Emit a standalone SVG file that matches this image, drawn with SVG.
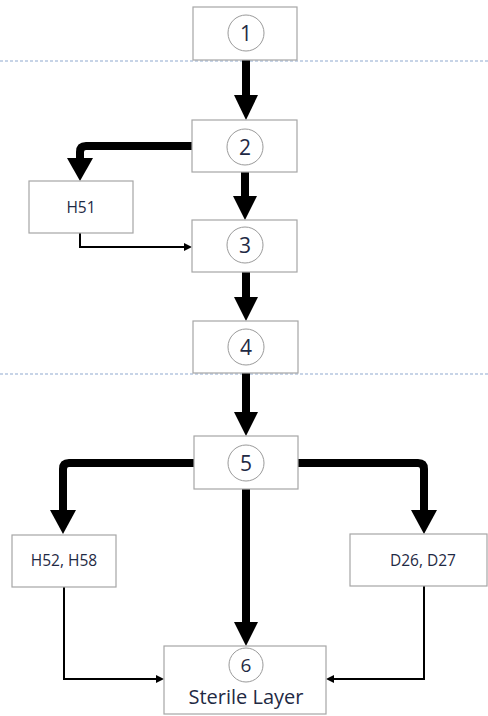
<svg xmlns="http://www.w3.org/2000/svg" width="488" height="716" viewBox="0 0 488 716">
<defs>
<style>
.box{fill:#fff;stroke:#a6a6a6;stroke-width:1.2}
.circ{fill:#fff;stroke:#9a9a9a;stroke-width:1}
.num{font-family:"Open Sans","Liberation Sans",sans-serif;font-size:21px;fill:#1f2a44;text-anchor:middle}
.lbl{font-family:"Open Sans","Liberation Sans",sans-serif;font-size:15.5px;fill:#1f2a44;text-anchor:middle}
.big{font-family:"Open Sans","Liberation Sans",sans-serif;font-size:20px;fill:#1f2a44;text-anchor:middle}
.thick{fill:none;stroke:#000;stroke-width:8;stroke-linejoin:round}
.thin{fill:none;stroke:#000;stroke-width:2}
.dash{stroke:#8fa9d0;stroke-width:1.2;stroke-dasharray:3,2}
</style>
</defs>
<g id="guides">
<line class="dash" x1="0" y1="61" x2="488" y2="61"/>
<line class="dash" x1="0" y1="374" x2="488" y2="374"/>
</g>
<g id="connectors">
<path class="thick" d="M246,60 V95" />
<path d="M234,95 L258,95 L246,120 z"/>
<path class="thick" d="M192,146 H86 Q80,146 80,152 V158"/>
<path d="M67,158 L93,158 L80,181 z"/>
<path class="thick" d="M245,172 V196"/>
<path d="M233,196 L257,196 L245,220 z"/>
<path class="thin" d="M80,233 V247 H186"/>
<path d="M184,243 L192,247 L184,251 z"/>
<path class="thick" d="M246,272 V297"/>
<path d="M234,297 L258,297 L246,321 z"/>
<path class="thick" d="M246,373 V412"/>
<path d="M234,412 L258,412 L246,436 z"/>
<path class="thick" d="M194,463 H69 Q63,463 63,469 V510"/>
<path d="M50,510 L76,510 L63,534 z"/>
<path class="thick" d="M298,463 H418 Q424,463 424,469 V510"/>
<path d="M411,510 L437,510 L424,534 z"/>
<path class="thick" d="M246,489 V622"/>
<path d="M234,622 L258,622 L246,646 z"/>
<path class="thin" d="M64,587 V679 H158"/>
<path d="M156,675 L164,679 L156,683 z"/>
<path class="thin" d="M424,586 V679 H332"/>
<path d="M334,675 L326,679 L334,683 z"/>
</g>
<g id="n1">
<rect class="box" x="193" y="7" width="104" height="53"/>
<circle class="circ" cx="246" cy="33" r="18"/>
<text class="num" x="246" y="41">1</text>
</g>
<g id="n2">
<rect class="box" x="192" y="120" width="105" height="52"/>
<circle class="circ" cx="245" cy="147" r="18"/>
<text class="num" x="245" y="155">2</text>
</g>
<g id="nH51">
<rect class="box" x="29" y="181" width="104" height="52"/>
<text class="lbl" x="81" y="213">H51</text>
</g>
<g id="n3">
<rect class="box" x="192" y="220" width="105" height="52"/>
<circle class="circ" cx="245" cy="245" r="18"/>
<text class="num" x="245" y="253">3</text>
</g>
<g id="n4">
<rect class="box" x="193" y="321" width="105" height="52"/>
<circle class="circ" cx="246" cy="347" r="18"/>
<text class="num" x="246" y="355">4</text>
</g>
<g id="n5">
<rect class="box" x="194" y="436" width="104" height="53"/>
<circle class="circ" cx="246" cy="463" r="18"/>
<text class="num" x="246" y="471">5</text>
</g>
<g id="nH52">
<rect class="box" x="12" y="535" width="104" height="52"/>
<text class="lbl" x="64" y="566">H52, H58</text>
</g>
<g id="nD26">
<rect class="box" x="350" y="534" width="137" height="52"/>
<text class="lbl" x="423" y="566">D26, D27</text>
</g>
<g id="n6">
<rect class="box" x="164" y="646" width="162" height="68"/>
<circle class="circ" cx="246" cy="665" r="17"/>
<text class="num" x="246" y="672" style="font-size:19px">6</text>
<text class="big" x="246" y="704">Sterile Layer</text>
</g>
</svg>
